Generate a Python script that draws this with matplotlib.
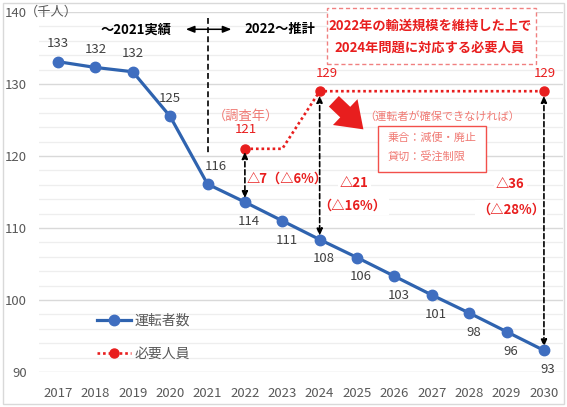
import matplotlib
matplotlib.use("Agg")
import matplotlib.pyplot as plt
import numpy as np
from matplotlib.patches import Rectangle

plt.rcParams['font.family'] = ['Noto Sans CJK JP', 'DejaVu Sans']

# data
years = ['2017', '2018', '2019', '2020', '2021', '2022', '2023',
         '2024', '2025', '2026', '2027', '2028', '2029', '2030']
drivers = [133.1, 132.3, 131.7, 125.5, 116.1, 113.6, 111.0,
           108.4, 105.9, 103.3, 100.7, 98.2, 95.6, 93.0]
driver_labels = ['133', '132', '132', '125', '116', '114', '111',
                 '108', '106', '103', '101', '98', '96', '93']
required = [np.nan, np.nan, np.nan, np.nan, np.nan, 121.0, 121.0,
            129.0, 129.0, 129.0, 129.0, 129.0, 129.0, 129.0]
required_marked = [5, 7, 13]          # indices shown with a dot
required_labels = {5: '121', 7: '129', 13: '129'}

BLUE = '#2F63AF'
BLUE_M = '#3F6EC0'
RED = '#E81E1E'
PINK = '#F07A74'
GRAY = '#595959'

x = np.arange(len(years))

fig = plt.figure(figsize=(5.67, 4.07), dpi=100)
fig.patches.append(Rectangle((0.005, 0.008), 0.99, 0.985, transform=fig.transFigure,
                             fill=False, ec='#d9d9d9', lw=1))
ax = fig.add_axes([0.0693, 0.086, 0.923, 0.8845])

ax.set_xlim(-0.5, len(years) - 0.5)
ax.set_ylim(90, 140)
ax.set_yticks(range(90, 141, 10))
ax.set_yticks(range(90, 141, 2), minor=True)
ax.set_xticks(x)
ax.set_xticklabels(years)
ax.grid(axis='y', which='major', color='#d9d9d9', lw=1)
ax.grid(axis='y', which='minor', color='#eeeeee', lw=0.9)
ax.set_axisbelow(True)
for s in ax.spines.values():
    s.set_visible(False)
ax.tick_params(axis='both', which='both', length=0, colors=GRAY, labelsize=9.5)
ax.tick_params(axis='y', pad=9)
ax.tick_params(axis='x', pad=11)
ax.annotate('（千人）', xy=(0, 140), xycoords=('axes fraction', 'data'),
            xytext=(-10.5, 0), textcoords='offset points', ha='left', va='center',
            color=GRAY, fontsize=9.5, annotation_clip=False)

# series
ax.plot(x, drivers, color=BLUE, lw=2.3, marker='o', ms=7.5,
        mfc=BLUE_M, mec=BLUE_M, label='運転者数', zorder=4)
ax.plot(x, required, color=RED, lw=1.9, ls=(0, (1, 1.1)), zorder=3)
ax.plot(x[required_marked], np.array(required)[required_marked], ls='none',
        marker='o', ms=6.5, color=RED, zorder=5)
ax.plot([], [], color=RED, lw=1.9, ls=(0, (1, 1.1)), marker='o', ms=6.5,
        label='必要人員')

# data labels
for i, (v, t) in enumerate(zip(drivers, driver_labels)):
    if i <= 4:
        dx = 6 if i == 4 else 0
        ax.annotate(t, (x[i], v), xytext=(dx, 13), textcoords='offset points',
                    ha='center', va='center', fontsize=9.5, color='#404040')
    else:
        ax.annotate(t, (x[i], v), xytext=(3, -14), textcoords='offset points',
                    ha='center', va='center', fontsize=9.5, color='#404040')
for i, t in required_labels.items():
    dx = 5 if i == 7 else 1
    dy = 14 if i == 5 else 13
    ax.annotate(t, (x[i], required[i]), xytext=(dx, dy), textcoords='offset points',
                ha='center', va='center', fontsize=9.5, color=RED)
ax.text(5.04, 125.5, '（調査年）', ha='center', va='center', fontsize=9.5, color=PINK)

# actual / forecast divider
ax.plot([4, 4], [139.2, 120.2], color='black', lw=1.2, ls=(0, (3.5, 2)))
ax.annotate('', xy=(3.42, 137.6), xytext=(4.64, 137.6),
            arrowprops=dict(arrowstyle='<|-|>,head_width=0.2,head_length=0.5',
                            color='black', lw=1.1, shrinkA=0, shrinkB=0))
ax.text(2.1, 137.6, '～2021実績', ha='center', va='center', fontsize=9.5,
        fontweight='bold', color='black')
ax.text(5.95, 137.6, '2022～推計', ha='center', va='center', fontsize=9.5,
        fontweight='bold', color='black')

# gap arrows
for i, top, bot in [(5, 120.6, 114.1), (7, 128.4, 108.9), (13, 128.4, 93.5)]:
    ax.annotate('', xy=(x[i], bot), xytext=(x[i], top),
                arrowprops=dict(arrowstyle='<|-|>,head_width=0.17,head_length=0.4',
                                color='black', lw=1.2, ls=(0, (3, 1.8)),
                                shrinkA=0, shrinkB=0), zorder=6)
ax.text(5.05, 116.8, '△7（△6%）', ha='left', va='center', fontsize=9.5,
        fontweight='bold', color=RED)
wb = dict(fc='white', ec='none', pad=1.5)
ax.text(7.93, 116.3, '△21', ha='center', va='center', fontsize=9.5,
        fontweight='bold', color=RED, bbox=wb)
ax.text(7.88, 113.1, '（△16%）', ha='center', va='center', fontsize=9.5,
        fontweight='bold', color=RED, bbox=wb)
ax.text(12.1, 116.1, '△36', ha='center', va='center', fontsize=9.5,
        fontweight='bold', color=RED, bbox=wb)
ax.text(12.13, 112.6, '（△28%）', ha='center', va='center', fontsize=9.5,
        fontweight='bold', color=RED, bbox=wb)

# boxes and big arrow
ax.add_patch(Rectangle((7.2, 132.8), 5.58, 7.8, fc='white', ec='#F08080',
                       lw=1, ls=(0, (3, 2)), clip_on=False, zorder=6))
ax.text(9.95, 138.05, '2022年の輸送規模を維持した上で', ha='center', va='center',
        fontsize=9.5, fontweight='bold', color=RED, zorder=7)
ax.text(9.95, 135.1, '2024年問題に対応する必要人員', ha='center', va='center',
        fontsize=9.5, fontweight='bold', color=RED, zorder=7)

ax.annotate('', xy=(8.17, 123.7), xytext=(7.38, 127.6),
            arrowprops=dict(arrowstyle='simple,head_width=1.35,head_length=0.95,tail_width=0.55',
                            fc=RED, ec='none', mutation_scale=19, shrinkA=0, shrinkB=0))
ax.text(10.28, 125.56, '（運転者が確保できなければ）', ha='center', va='center',
        fontsize=8, color=PINK)
ax.add_patch(Rectangle((8.57, 117.78), 2.89, 6.39, fc='white', ec='#F2504B', lw=1, zorder=6))
ax.text(8.81, 122.5, '乗合：減便・廃止', ha='left', va='center', fontsize=8,
        color=PINK, zorder=7)
ax.text(8.81, 120.0, '貸切：受注制限', ha='left', va='center', fontsize=8,
        color=PINK, zorder=7)

leg = ax.legend(loc='center left', bbox_to_anchor=(0.087, 0.097), frameon=False,
                fontsize=10, labelcolor=GRAY, handlelength=2.4, handletextpad=0.3,
                labelspacing=1.35)

fig.savefig('out.png', dpi=100)
